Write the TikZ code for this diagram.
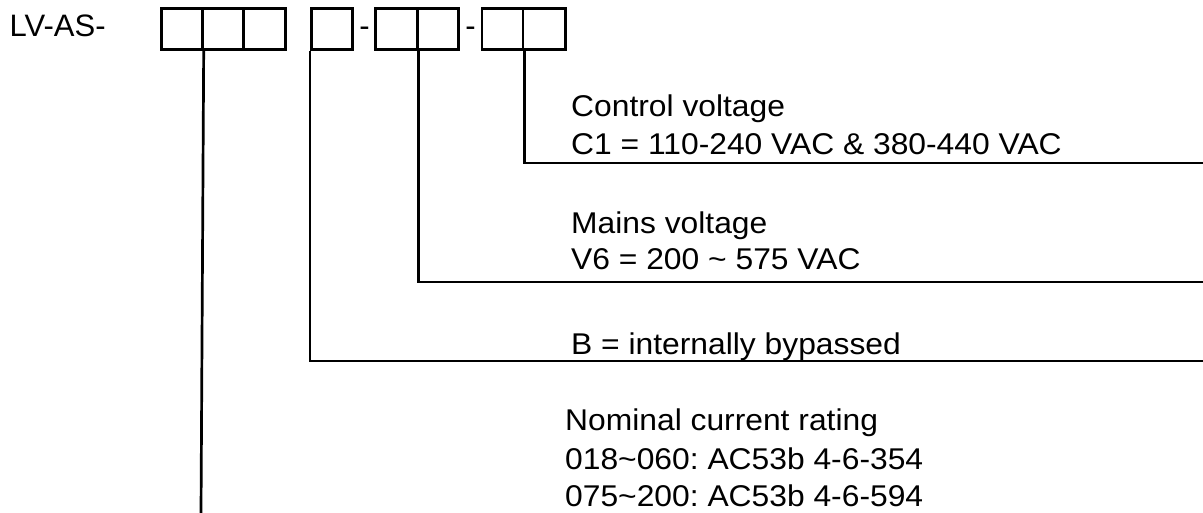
\documentclass[tikz,border=0pt]{standalone}
\usepackage{fontspec}
\setmainfont{Liberation Sans}
\newfontfamily\lblfont[FakeStretch=1.06]{Liberation Sans}
\frenchspacing
\begin{document}
\begin{tikzpicture}[x=1pt,y=-1pt,
  cell/.style={draw, line width=2.7pt, minimum width=41pt, minimum height=41pt, inner sep=0pt, anchor=north west},
  wire/.style={line width=2.7pt},
  lbl/.style={anchor=base west, inner sep=0pt, font=\lblfont\fontsize{30}{30}\selectfont\frenchspacing},
  sep/.style={anchor=base, inner sep=0pt, font=\fontsize{31}{31}\selectfont}]
\useasboundingbox (0,0) rectangle (1203,513);
\node[anchor=base west, inner sep=0pt, font=\fontsize{31}{31}\selectfont] (prefix) at (9.5,36.7) {LV-AS-};
% group 1
\node[cell] (g1a) at (160,7) {};
\node[cell] (g1b) at (201,7) {};
\node[cell, minimum width=42pt] (g1c) at (242,7) {};
% group 2
\node[cell] (g2) at (310,7) {};
\node[sep] (d1) at (364.5,36.7) {-};
% group 3
\node[cell, minimum width=42pt] (g3a) at (374,7) {};
\node[cell] (g3b) at (416,7) {};
\node[sep] (d2) at (470.5,36.7) {-};
% group 4
\node[cell] (g4a) at (480.7,7) {};
\node[cell, minimum width=42.3pt] (g4b) at (521.7,7) {};
% ends
\coordinate (e4) at (1203,163);
\coordinate (e3) at (1203,282);
\coordinate (e2) at (1203,361);
\coordinate (e1) at (201,513);
\draw[wire] (g4a.south east) |- (e4);
\draw[wire] (g3a.south east) |- (e3);
\draw[wire] (g2.south west) |- (e2);
\draw[wire] (g1a.south east) -- (e1);
% labels
\node[lbl] (t1a) at (571,117) {Control voltage};
\node[lbl] (t1b) at (571,155) {C1 = 110-240 VAC \& 380-440 VAC};
\node[lbl] (t2a) at (571,234) {Mains voltage};
\node[lbl] (t2b) at (571,270) {V6 = 200 \textasciitilde{} 575 VAC};
\node[lbl] (t3) at (571,354) {B = internally bypassed};
\node[lbl] (t4a) at (565,430) {Nominal current rating};
\node[lbl] (t4b) at (565,469) {018\textasciitilde{}060: AC53b 4-6-354};
\node[lbl] (t4c) at (565,506.5) {075\textasciitilde{}200: AC53b 4-6-594};
\end{tikzpicture}
\end{document}
